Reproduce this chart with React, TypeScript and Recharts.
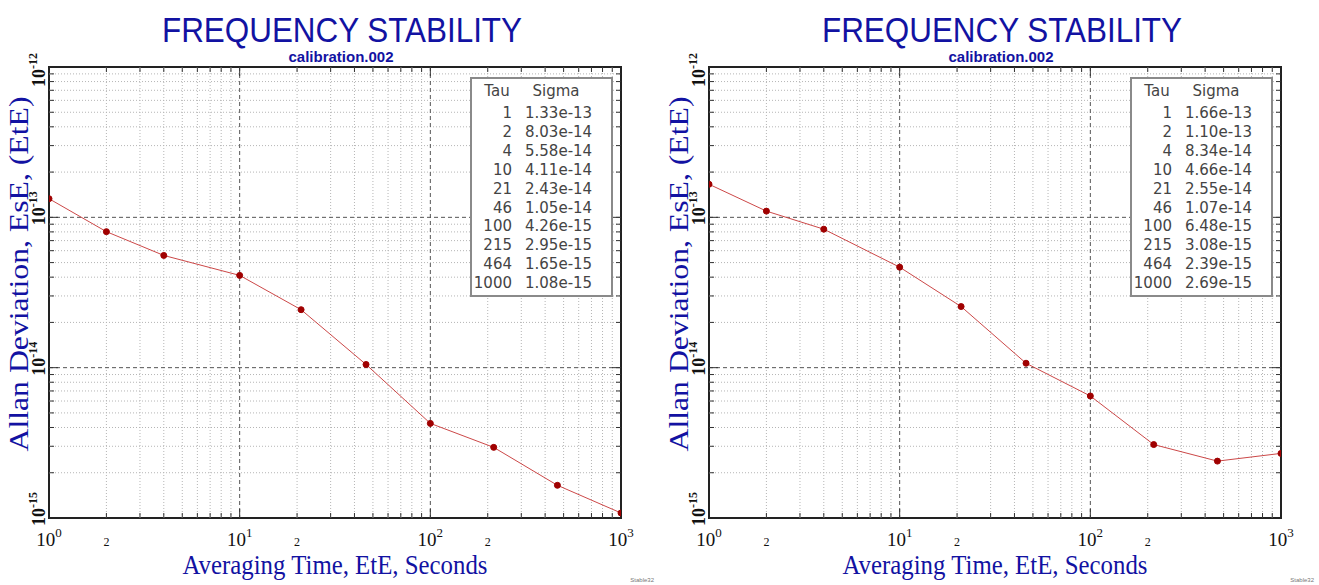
import React from "react";
import { LineChart, Line, XAxis, YAxis, ReferenceLine, ReferenceArea } from "recharts";

const tau = [1, 2, 4, 10, 21, 46, 100, 215, 464, 1000];
const sigmaLeft = [1.33e-13, 8.03e-14, 5.58e-14, 4.11e-14, 2.43e-14, 1.05e-14, 4.26e-15, 2.95e-15, 1.65e-15, 1.08e-15];
const sigmaRight = [1.66e-13, 1.1e-13, 8.34e-14, 4.66e-14, 2.55e-14, 1.07e-14, 6.48e-15, 3.08e-15, 2.39e-15, 2.69e-15];

const xDecades = [1, 10, 100, 1000];
const xMinor = [2, 3, 4, 5, 6, 7, 8, 9, 20, 30, 40, 50, 60, 70, 80, 90, 200, 300, 400, 500, 600, 700, 800, 900];
const xInnerMajor = [10, 100];
const xTwoLabels = [2, 20, 200];

const yDecades = [1e-15, 1e-14, 1e-13, 1e-12];
const yMinor = [
  2e-15, 3e-15, 4e-15, 5e-15, 6e-15, 7e-15, 8e-15, 9e-15,
  2e-14, 3e-14, 4e-14, 5e-14, 6e-14, 7e-14, 8e-14, 9e-14,
  2e-13, 3e-13, 4e-13, 5e-13, 6e-13, 7e-13, 8e-13, 9e-13,
];
const yInnerMajor = [1e-14, 1e-13];
const yExponents: Record<string, string> = { "1e-15": "-15", "1e-14": "-14", "1e-13": "-13", "1e-12": "-12" };
const xExponents: Record<string, string> = { "1": "0", "10": "1", "100": "2", "1000": "3" };

const title = "FREQUENCY STABILITY";
const subtitle = "calibration.002";
const xTitle = "Averaging Time, EtE, Seconds";
const yTitle = "Allan Deviation, EsE, (EtE)";
const footer = "Stable32";

const BLUE = "#1212a2";

const vGrid = (major: boolean) => (p: any) => {
  const top = Math.min(p.y1, p.y2);
  const bot = Math.max(p.y1, p.y2);
  const len = major ? 9 : 5;
  return (
    <g>
      <line x1={p.x1} y1={top} x2={p.x1} y2={bot} stroke={major ? "#555" : "#b5b5b5"} strokeDasharray={major ? "4 3" : "1 2"} />
      <line x1={p.x1} y1={top} x2={p.x1} y2={top + len} stroke="#333" />
      <line x1={p.x1} y1={bot} x2={p.x1} y2={bot - len} stroke="#333" />
    </g>
  );
};

const hGrid = (major: boolean) => (p: any) => {
  const l = Math.min(p.x1, p.x2);
  const r = Math.max(p.x1, p.x2);
  const len = major ? 9 : 5;
  return (
    <g>
      <line x1={l} y1={p.y1} x2={r} y2={p.y1} stroke={major ? "#555" : "#b5b5b5"} strokeDasharray={major ? "4 3" : "1 2"} />
      <line x1={l} y1={p.y1} x2={l + len} y2={p.y1} stroke="#333" />
      <line x1={r} y1={p.y1} x2={r - len} y2={p.y1} stroke="#333" />
    </g>
  );
};

const XTick = (p: any) => {
  const v = p.payload.value;
  const exp = xExponents[String(v)];
  if (exp !== undefined) {
    return (
      <text x={p.x} y={p.y + 28} textAnchor="middle" fontFamily="Liberation Serif" fill="#111">
        <tspan fontSize={19}>10</tspan>
        <tspan fontSize={13} dy={-9}>{exp}</tspan>
      </text>
    );
  }
  return (
    <text x={p.x} y={p.y + 28} textAnchor="middle" fontFamily="Liberation Serif" fontSize={12} fill="#111">
      2
    </text>
  );
};

const YTick = (p: any) => {
  const exp = yExponents[p.payload.value.toExponential(0).replace("+", "")] ?? "";
  const bx = p.x - 4;
  const by = Math.max(p.y - 9, 70);
  return (
    <text
      x={bx}
      y={by}
      transform={`rotate(-90 ${bx} ${by})`}
      textAnchor="middle"
      fontFamily="Liberation Serif"
      fontWeight="bold"
      fill="#111"
    >
      <tspan fontSize={18}>10</tspan>
      <tspan fontSize={12} dy={-8}>{exp}</tspan>
    </text>
  );
};

function Panel({ sigma }: { sigma: number[] }) {
  const data = tau.map((t, i) => ({ tau: t, sigma: sigma[i] }));
  return (
    <div style={{ position: "relative", width: 660, height: 585 }}>
      <LineChart width={660} height={585} data={data} margin={{ top: 67, right: 39, bottom: 0, left: 0 }}>
        <XAxis
          dataKey="tau"
          type="number"
          scale="log"
          domain={[1, 1000]}
          allowDataOverflow
          ticks={[...xDecades, ...xTwoLabels]}
          interval={0}
          tick={XTick}
          tickLine={false}
          axisLine={false}
          tickSize={0}
          tickMargin={0}
          height={67}
        />
        <YAxis
          type="number"
          scale="log"
          domain={[1e-15, 1e-12]}
          allowDataOverflow
          ticks={yDecades}
          interval={0}
          tick={YTick}
          tickLine={false}
          axisLine={false}
          tickSize={0}
          tickMargin={0}
          width={49}
        />
        {xMinor.map((v) => (
          <ReferenceLine key={"xm" + v} x={v} shape={vGrid(false)} />
        ))}
        {yMinor.map((v) => (
          <ReferenceLine key={"ym" + v} y={v} shape={hGrid(false)} />
        ))}
        {xInnerMajor.map((v) => (
          <ReferenceLine key={"xM" + v} x={v} shape={vGrid(true)} />
        ))}
        {yInnerMajor.map((v) => (
          <ReferenceLine key={"yM" + v} y={v} shape={hGrid(true)} />
        ))}
        <ReferenceArea x1={1} x2={1000} y1={1e-15} y2={1e-12} fill="none" fillOpacity={0} stroke="#222" strokeWidth={2} />
        <Line
          dataKey="sigma"
          stroke="#cc4848"
          strokeWidth={1}
          dot={{ r: 3, fill: "#a00000", stroke: "#a00000", strokeWidth: 1 }}
          isAnimationActive={false}
        />
      </LineChart>
      <svg width={660} height={585} style={{ position: "absolute", left: 0, top: 0, pointerEvents: "none" }}>
        <text x={342} y={42} textAnchor="middle" fontFamily="Liberation Sans" fontSize={35} fill={BLUE} textLength={360} lengthAdjust="spacingAndGlyphs">
          {title}
        </text>
        <text x={341} y={62} textAnchor="middle" fontFamily="Liberation Sans" fontWeight="bold" fontSize={15} fill={BLUE}>
          {subtitle}
        </text>
        <text x={335} y={574} textAnchor="middle" fontFamily="Liberation Serif" fontSize={27} fill={BLUE} textLength={305} lengthAdjust="spacingAndGlyphs">
          {xTitle}
        </text>
        <text
          x={28}
          y={274}
          transform="rotate(-90 28 274)"
          textAnchor="middle"
          fontFamily="Liberation Serif"
          fontSize={27}
          fill={BLUE}
          textLength={355}
          lengthAdjust="spacingAndGlyphs"
        >
          {yTitle}
        </text>
        <text x={654} y={582} textAnchor="end" fontFamily="Liberation Sans" fontSize={6} fill="#777">
          {footer}
        </text>
        <g transform="translate(471 78)">
          <rect x={0} y={0} width={141} height={218} fill="#fff" stroke="#8a8a8a" strokeWidth={2} />
          <text x={26} y={18} textAnchor="middle" fontFamily="DejaVu Sans" fontSize={15} fill="#444">
            Tau
          </text>
          <text x={85} y={18} textAnchor="middle" fontFamily="DejaVu Sans" fontSize={15} fill="#444">
            Sigma
          </text>
          {tau.map((t, i) => (
            <g key={t}>
              <text x={41} y={40 + i * 18.9} textAnchor="end" fontFamily="DejaVu Sans" fontSize={15} fill="#444">
                {t}
              </text>
              <text x={54} y={40 + i * 18.9} fontFamily="DejaVu Sans" fontSize={15} fill="#444">
                {sigma[i].toExponential(2)}
              </text>
            </g>
          ))}
        </g>
      </svg>
    </div>
  );
}

export default function App() {
  return (
    <div style={{ position: "absolute", left: 0, top: 0, width: 1319, height: 585, background: "#fff", display: "flex" }}>
      <Panel sigma={sigmaLeft} />
      <Panel sigma={sigmaRight} />
    </div>
  );
}
